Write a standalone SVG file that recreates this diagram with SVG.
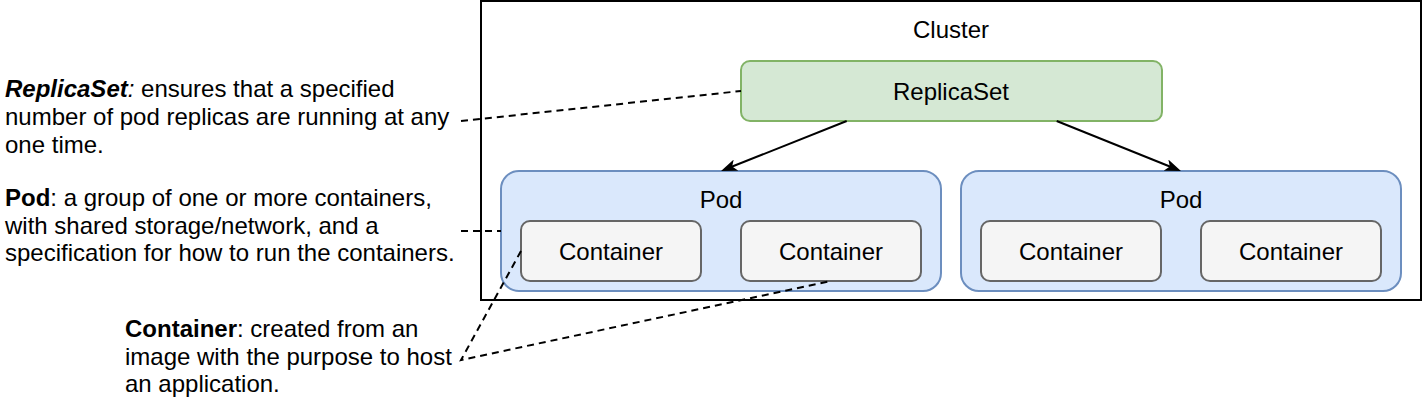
<svg xmlns="http://www.w3.org/2000/svg" width="1422" height="402" viewBox="0 0 1422 402">
<style>
text { font-family: "Liberation Sans", Arial, Helvetica, sans-serif; font-size: 24px; fill: #000; }
.c { text-anchor: middle; }
.b { font-weight: bold; }
.i { font-style: italic; }
.cluster { fill: #ffffff; stroke: #000000; stroke-width: 2; }
.rs { fill: #d5e8d4; stroke: #82b366; stroke-width: 2; }
.pod { fill: #dae8fc; stroke: #6c8ebf; stroke-width: 2; }
.ctr { fill: #f5f5f5; stroke: #666666; stroke-width: 2; }
.dash { fill: none; stroke: #000; stroke-width: 2; stroke-dasharray: 7 5; }
.arrow { fill: none; stroke: #000; stroke-width: 2; marker-end: url(#ah); }
</style>
<defs>
<marker id="ah" viewBox="0 0 16 12" refX="10" refY="6" markerWidth="16" markerHeight="12" markerUnits="userSpaceOnUse" orient="auto">
<path d="M0,0 L16,6 L0,12 L4,6 Z" fill="#000"/>
</marker>
</defs>

<g id="cluster">
<rect class="cluster" x="481" y="1" width="940" height="299"/>
<text class="c" x="951" y="37.5">Cluster</text>
</g>

<g id="replicaset">
<rect class="rs" x="741" y="61" width="421" height="60" rx="9" ry="9"/>
<text class="c" x="951" y="99.5">ReplicaSet</text>
</g>

<g id="pod1">
<rect class="pod" x="501" y="171" width="440" height="120" rx="18" ry="18"/>
<text class="c" x="721" y="208">Pod</text>
</g>
<g id="pod1-container1">
<rect class="ctr" x="521" y="221" width="180" height="60" rx="9" ry="9"/>
<text class="c" x="611" y="260">Container</text>
</g>
<g id="pod1-container2">
<rect class="ctr" x="741" y="221" width="180" height="60" rx="9" ry="9"/>
<text class="c" x="831" y="260">Container</text>
</g>

<g id="pod2">
<rect class="pod" x="961" y="171" width="440" height="120" rx="18" ry="18"/>
<text class="c" x="1181" y="208">Pod</text>
</g>
<g id="pod2-container1">
<rect class="ctr" x="981" y="221" width="180" height="60" rx="9" ry="9"/>
<text class="c" x="1071" y="260">Container</text>
</g>
<g id="pod2-container2">
<rect class="ctr" x="1201" y="221" width="180" height="60" rx="9" ry="9"/>
<text class="c" x="1291" y="260">Container</text>
</g>

<g id="note-replicaset">
<text x="5" y="97.4"><tspan class="b i">ReplicaSet</tspan><tspan class="i">:</tspan> ensures that a specified<tspan x="5" dy="27.6">number of pod replicas are running at any</tspan><tspan x="5" dy="27.6">one time.</tspan></text>
</g>

<g id="note-pod">
<text x="5" y="205.9"><tspan class="b">Pod</tspan>: a group of one or more containers,<tspan x="5" dy="27.6">with shared storage/network, and a</tspan><tspan x="5" dy="27.6">specification for how to run the containers.</tspan></text>
</g>

<g id="note-container">
<text x="125" y="336.9"><tspan class="b">Container</tspan>: created from an<tspan x="125" dy="27.6">image with the purpose to host</tspan><tspan x="125" dy="27.6">an application.</tspan></text>
</g>

<g id="connectors">
<path class="arrow" d="M846.7,121 L726.6,168.8"/>
<path class="arrow" d="M1056.7,121 L1175.4,168.8"/>
<path class="dash" d="M461,121 L741,91"/>
<path class="dash" d="M461,231 L501,231"/>
<path class="dash" d="M521,251 L461,360 L831,281"/>
</g>
</svg>
